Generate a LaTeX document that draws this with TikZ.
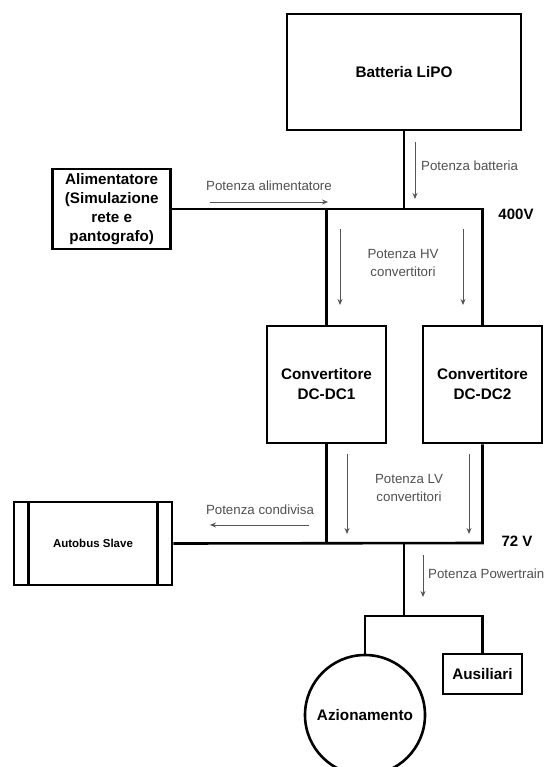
\documentclass[tikz,border=0pt]{standalone}
\usepackage{fontspec}
\setmainfont{Liberation Sans}
\usetikzlibrary{arrows.meta}
\definecolor{lbl}{HTML}{505050}
\definecolor{arr}{HTML}{555555}
\tikzset{
  box/.style={draw=black, line width=2.6pt, fill=white, inner sep=0pt, align=center,
    font=\fontsize{15.3}{20}\selectfont\bfseries},
  wire/.style={draw=black, line width=2.6pt},
  flow/.style={draw=arr, line width=0.9pt, -{Stealth[length=6pt,width=5pt]}},
  lab/.style={text=lbl, font=\fontsize{13.3}{18}\selectfont, align=center, inner sep=0pt},
  volt/.style={font=\fontsize{15}{18}\selectfont\bfseries, inner sep=0pt}
}
\begin{document}
\begin{tikzpicture}[x=1pt,y=-1pt]
\useasboundingbox (0,0) rectangle (547,767);
\clip (0,0) rectangle (547,767);
% boxes
\node[box, minimum width=234, minimum height=116] (bat) at (404,72) {Batteria LiPO};
\node[box, minimum width=118, minimum height=80, font=\fontsize{15.2}{19}\selectfont\bfseries] (ali) at (111.7,209) {Alimentatore\\(Simulazione\\rete e\\pantografo)};
\node[box, minimum width=119, minimum height=117] (c1) at (326.5,384.5) {Convertitore\\DC-DC1};
\node[box, minimum width=119, minimum height=117] (c2) at (482.5,384.5) {Convertitore\\DC-DC2};
\node[box, minimum width=158, minimum height=83, font=\fontsize{11.5}{14}\selectfont\bfseries] (slave) at (93,543.5) {Autobus Slave};
\node[box, circle, minimum size=120] (az) at (365,715) {Azionamento};
\node[box, minimum width=79, minimum height=40] (aus) at (482.5,674) {Ausiliari};
% inner lines of slave box
\draw[wire] ([xshift=16pt]slave.north west) -- ([xshift=16pt]slave.south west);
\draw[wire] ([xshift=-16pt]slave.north east) -- ([xshift=-16pt]slave.south east);
% bus coordinates
\coordinate (hvb) at (404,209);
\coordinate (hv1) at (326.5,209);
\coordinate (hv2) at (482.5,209);
\coordinate (lv1) at (326.5,543);
\coordinate (lv2) at (482.5,543);
\coordinate (lvb) at (404,543);
\coordinate (sp) at (404,616);
\coordinate (spl) at (365,616);
\coordinate (spr) at (482.5,616);
% HV bus
\draw[wire] (bat.south) -- (hvb);
\draw[wire] (ali.east) -- (hv2) -- (c2.north);
\draw[wire] (hv1) -- (c1.north);
% LV bus
\draw[wire] (c1.south) -- (lv1);
\draw[wire] (slave.east) -- (lv2) -- (c2.south);
\draw[wire] (lvb) -- (sp);
\draw[wire] (az.north) -- (spl) -- (spr) -- (aus.north);
% flow arrows
\coordinate (a1s) at (415,142); \coordinate (a1e) at (415,199);
\draw[flow] (a1s) -- (a1e);
\node[lab, anchor=west] (l1) at (421,166) {Potenza batteria};
\coordinate (a2s) at (210,202); \coordinate (a2e) at (328,202);
\draw[flow] (a2s) -- (a2e);
\node[lab] (l2) at (269,186) {Potenza alimentatore};
\coordinate (a3s) at (340,229); \coordinate (a3e) at (340,305);
\coordinate (a4s) at (463,229); \coordinate (a4e) at (463,305);
\draw[flow] (a3s) -- (a3e);
\draw[flow] (a4s) -- (a4e);
\node[lab] (l3) at (403,263) {Potenza HV\\convertitori};
\coordinate (a5s) at (347,454); \coordinate (a5e) at (347,534);
\coordinate (a6s) at (469,454); \coordinate (a6e) at (469,534);
\draw[flow] (a5s) -- (a5e);
\draw[flow] (a6s) -- (a6e);
\node[lab] (l4) at (409,488) {Potenza LV\\convertitori};
\coordinate (a7s) at (309,525); \coordinate (a7e) at (210,525);
\draw[flow] (a7s) -- (a7e);
\node[lab] (l5) at (260,510) {Potenza condivisa};
\coordinate (a8s) at (423,555); \coordinate (a8e) at (423,597);
\draw[flow] (a8s) -- (a8e);
\node[lab, anchor=west] (l6) at (428,574) {Potenza Powertrain};
% voltages
\node[volt] (v400) at (516,214) {400V};
\node[volt] (v72) at (517,541) {72 V};
\end{tikzpicture}
\end{document}
